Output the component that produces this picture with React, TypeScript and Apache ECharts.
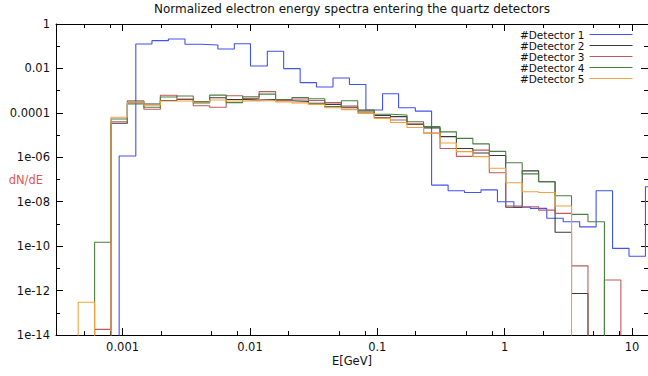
import React, { useEffect, useRef } from "react";
import * as echarts from "echarts";

// ---- texts ----
const chartTitle = "Normalized electron energy spectra entering the quartz detectors";
const xAxisTitle = "E[GeV]";
const yAxisTitle = "dN/dE";
const detectorNames = ["#Detector 1", "#Detector 2", "#Detector 3", "#Detector 4", "#Detector 5"];

// ---- axes (GeV, dN/dE) ----
const xRange = [3.0e-4, 13.36];
const yRange = [1e-14, 1];
const xTickValues = [0.001, 0.01, 0.1, 1, 10];
const xTickLabels = ["0.001", "0.01", "0.1", "1", "10"];
const xMinorTickValues = [5e-4, 8e-4, 2e-3, 5e-3, 8e-3, 2e-2, 5e-2, 8e-2, 0.2, 0.5, 0.8, 2, 5, 8];
const yTickValues = [1e-14, 1e-12, 1e-10, 1e-8, 1e-6, 1e-4, 1e-2, 1];
const yTickLabels = ["1e-14", "1e-12", "1e-10", "1e-08", "1e-06", "0.0001", "0.01", "1"];

// ---- histogram bin edges (GeV) ----
const det1Edges = [
  9.4e-4, 1.27e-3, 1.7e-3, 2.29e-3, 3.09e-3, 4.16e-3, 5.6e-3, 7.54e-3, 1.01e-2, 1.37e-2, 1.84e-2,
  2.48e-2, 3.33e-2, 4.49e-2, 6.04e-2, 8.14e-2, 0.11, 0.147, 0.199, 0.267, 0.36, 0.484, 0.652,
  0.878, 1.182, 1.591, 2.143, 2.884, 3.883, 5.229, 7.039, 9.478, 12.76, 17.2,
];
const sharedEdges = [
  4.48e-4, 6.03e-4, 8.12e-4, 1.09e-3, 1.47e-3, 1.98e-3, 2.67e-3, 3.59e-3, 4.83e-3, 6.51e-3,
  8.76e-3, 1.18e-2, 1.59e-2, 2.14e-2, 2.88e-2, 3.87e-2, 5.22e-2, 7.02e-2, 9.46e-2, 0.127, 0.171,
  0.231, 0.311, 0.418, 0.563, 0.758, 1.02, 1.374, 1.849, 2.49, 3.352, 4.513, 6.076, 8.18, 11.02,
];

// ---- bin contents dN/dE (0 = empty bin) ----
const det1Values = [
  1.15e-6, 0.126, 0.178, 0.21, 0.122, 0.114, 0.075, 0.13, 0.0129, 0.059, 0.0098, 0.0023, 0.00145,
  0.0037, 0.0019, 1.35e-4, 7.2e-4, 1.7e-4, 1.2e-4, 5.6e-8, 3.1e-8, 2.6e-8, 3.4e-8, 1.0e-8, 5.6e-9,
  5.0e-9, 1.8e-9, 1.26e-9, 7.4e-10, 3.1e-8, 7.9e-11, 3.5e-11, 4.7e-8,
];
const det2Values = [
  0, 0, 3.4e-5, 3.4e-4, 2.5e-4, 3.6e-4, 4.0e-4, 3.2e-4, 4.8e-4, 4.0e-4, 3.8e-4, 4.0e-4, 3.5e-4,
  3.3e-4, 2.7e-4, 2.4e-4, 1.7e-4, 1.1e-4, 7.6e-5, 6.8e-5, 3.0e-5, 2.1e-5, 8.5e-6, 2.5e-6, 1.55e-6,
  1.2e-6, 5.6e-9, 2.45e-7, 7.9e-8, 4.2e-10, 7.4e-13,
];
const det3Values = [
  0, 1.8e-14, 4.0e-5, 2.8e-4, 1.45e-4, 6.2e-4, 4.2e-4, 2.1e-4, 1.8e-4, 5.9e-4, 4.5e-4, 9.0e-4,
  3.6e-4, 4.2e-4, 3.6e-4, 2.9e-4, 2.0e-4, 1.3e-4, 6.2e-5, 4.8e-5, 3.2e-5, 1.23e-5, 2.5e-6, 1.1e-6,
  2.1e-6, 2.0e-7, 6.4e-9, 5.9e-9, 4.2e-9, 3.0e-9, 1.3e-11, 0, 3.0e-12,
];
const det4Values = [
  0, 1.5e-10, 5.3e-5, 2.5e-4, 1.8e-4, 5.2e-4, 5.7e-4, 2.8e-4, 6.3e-4, 2.9e-4, 5.3e-4, 7.0e-4,
  4.0e-4, 4.9e-4, 4.3e-4, 1.9e-4, 3.5e-4, 1.35e-4, 8.6e-5, 8.0e-5, 4.0e-5, 2.4e-5, 1.4e-5, 7.1e-6,
  4.0e-6, 1.85e-6, 5.7e-7, 1.8e-7, 7.9e-8, 1.85e-8, 2.7e-9, 1.26e-9,
];
const det5Values = [
  3.0e-13, 0, 6.3e-5, 3.1e-4, 2.2e-4, 3.4e-4, 3.4e-4, 3.1e-4, 3.8e-4, 3.4e-4, 3.4e-4, 3.6e-4,
  3.1e-4, 2.8e-4, 2.4e-4, 1.7e-4, 1.4e-4, 9.5e-5, 5.6e-5, 3.7e-5, 2.2e-5, 1.2e-5, 4.4e-6, 1.8e-6,
  1.07e-6, 3.2e-7, 7.1e-8, 2.8e-8, 2.6e-8, 6.4e-9,
];

const detectorColors = ["#4253ee", "#3a3a3a", "#c05a5a", "#4a8040", "#f2a23c"];

const FONT = "DejaVu Sans";
const FS = 11.5;
const EMPTY = -30; // log10 position used for empty bins (below the axis)

const lg = (v: number) => Math.log10(v);

function stepPoints(edges: number[], values: number[]): number[][] {
  const pts: number[][] = [[lg(edges[0]), EMPTY]];
  values.forEach((v, i) => pts.push([lg(edges[i]), v > 0 ? lg(v) : EMPTY]));
  pts.push([lg(edges[values.length]), EMPTY]);
  return pts;
}

export default function App() {
  const ref = useRef<HTMLDivElement>(null);

  useEffect(() => {
    if (!ref.current) return;
    const chart = echarts.init(ref.current, undefined, { renderer: "svg" });

    const xLabelMap = new Map<number, string>();
    xTickValues.forEach((v, i) => xLabelMap.set(Math.round(lg(v)), xTickLabels[i]));
    const yLabelMap = new Map<number, string>();
    yTickValues.forEach((v, i) => yLabelMap.set(Math.round(lg(v)), yTickLabels[i]));

    const xMin = lg(xRange[0]);
    const xMax = lg(xRange[1]);
    const yMin = Math.round(lg(yRange[0]));
    const yMax = Math.round(lg(yRange[1]));
    const xMajor = xTickValues.map(lg);
    const xMinor = xMinorTickValues.map(lg);

    const black = "#000";
    const baseX = {
      type: "value",
      min: xMin,
      max: xMax,
      gridIndex: 0,
      splitLine: { show: false },
      axisLabel: { show: false },
    };

    const detectors = [
      { name: detectorNames[0], edges: det1Edges, values: det1Values },
      { name: detectorNames[1], edges: sharedEdges, values: det2Values },
      { name: detectorNames[2], edges: sharedEdges, values: det3Values },
      { name: detectorNames[3], edges: sharedEdges, values: det4Values },
      { name: detectorNames[4], edges: sharedEdges, values: det5Values },
    ];

    chart.setOption({
      animation: false,
      title: {
        text: chartTitle,
        left: 352,
        top: 3,
        padding: 0,
        textAlign: "center",
        textStyle: { fontFamily: FONT, fontSize: 12, fontWeight: "normal", color: "#111" },
      },
      legend: {
        data: detectorNames,
        orient: "vertical",
        right: 15,
        top: 29,
        padding: 0,
        align: "right",
        itemWidth: 43,
        itemHeight: 10,
        itemGap: 0,
        selectedMode: false,
        itemStyle: { opacity: 0 },
        lineStyle: { width: 1 },
        textStyle: { fontFamily: FONT, fontSize: 10.5, lineHeight: 10.25, color: "#111" },
      },
      grid: {
        left: 56,
        right: 0,
        top: 24,
        bottom: 41,
        containLabel: false,
        outerBoundsMode: "none",
      },
      xAxis: [
        {
          ...baseX,
          position: "bottom",
          name: xAxisTitle,
          nameLocation: "middle",
          nameGap: 20,
          nameMoveOverlap: false,
          nameTextStyle: { fontFamily: FONT, fontSize: FS, color: "#111" },
          axisLine: { show: true, onZero: false, lineStyle: { color: black, width: 1 } },
          axisTick: { show: true, inside: true, length: 7, customValues: xMajor, lineStyle: { color: black } },
          axisLabel: {
            show: true,
            customValues: xMajor,
            margin: 6,
            fontFamily: FONT,
            fontSize: FS,
            color: "#111",
            formatter: (v: number) => xLabelMap.get(Math.round(v)) ?? "",
          },
        },
        {
          ...baseX,
          position: "bottom",
          axisLine: { show: false, onZero: false },
          axisTick: { show: true, inside: true, length: 4, customValues: xMinor, lineStyle: { color: black } },
        },
        {
          ...baseX,
          position: "top",
          axisLine: { show: true, onZero: false, lineStyle: { color: black, width: 1 } },
          axisTick: { show: true, inside: true, length: 7, customValues: xMajor, lineStyle: { color: black } },
        },
        {
          ...baseX,
          position: "top",
          axisLine: { show: false, onZero: false },
          axisTick: { show: true, inside: true, length: 4, customValues: xMinor, lineStyle: { color: black } },
        },
      ],
      yAxis: [
        {
          type: "value",
          position: "left",
          min: yMin,
          max: yMax,
          interval: 2,
          name: yAxisTitle,
          nameLocation: "middle",
          nameRotate: 0,
          nameGap: 13,
          nameMoveOverlap: false,
          nameTextStyle: { fontFamily: FONT, fontSize: FS, color: "#e05555" },
          splitLine: { show: false },
          axisLine: { show: true, onZero: false, lineStyle: { color: black, width: 1 } },
          axisTick: { show: true, inside: true, length: 7, lineStyle: { color: black } },
          minorTick: { show: true, splitNumber: 2, length: 4, lineStyle: { color: black } },
          axisLabel: {
            margin: 6,
            fontFamily: FONT,
            fontSize: FS,
            color: "#111",
            formatter: (v: number) => yLabelMap.get(Math.round(v)) ?? "",
          },
        },
        {
          type: "value",
          position: "right",
          min: yMin,
          max: yMax,
          interval: 2,
          splitLine: { show: false },
          axisLine: { show: true, onZero: false, lineStyle: { color: black, width: 1 } },
          axisTick: { show: true, inside: true, length: 7, lineStyle: { color: black } },
          minorTick: { show: true, splitNumber: 2, length: 4, lineStyle: { color: black } },
          axisLabel: { show: false },
        },
      ],
      series: detectors.map((d, i) => ({
        type: "line",
        name: d.name,
        xAxisIndex: 0,
        yAxisIndex: 0,
        data: stepPoints(d.edges, d.values),
        step: "end",
        symbol: "none",
        showSymbol: false,
        clip: true,
        smooth: false,
        lineStyle: { color: detectorColors[i], width: 1.1 },
        itemStyle: { color: detectorColors[i], opacity: 0 },
        emphasis: { disabled: true },
        z: 2 + i,
      })),
    });

    return () => chart.dispose();
  }, []);

  return (
    <div
      ref={ref}
      style={{ position: "absolute", left: 0, top: 0, width: 648, height: 376, background: "#fff" }}
    />
  );
}
